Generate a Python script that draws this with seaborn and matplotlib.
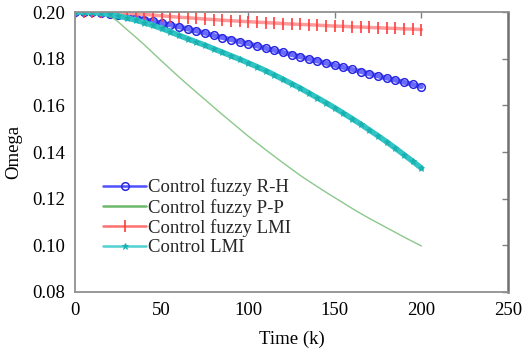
import numpy as np
import pandas as pd
import seaborn as sns
import matplotlib
matplotlib.use("Agg")
import matplotlib.pyplot as plt
from matplotlib.ticker import FormatStrFormatter

# ---- data ----
k = list(range(0, 201, 5))

rh = [0.2000, 0.2000, 0.1999, 0.1997, 0.1993, 0.1988, 0.1982, 0.1975, 0.1968, 0.1961,
      0.1953, 0.1945, 0.1937, 0.1928, 0.1919, 0.1910, 0.1900, 0.1891, 0.1882, 0.1873,
      0.1864, 0.1855, 0.1845, 0.1836, 0.1827, 0.1818, 0.1808, 0.1799, 0.1790, 0.1781,
      0.1772, 0.1763, 0.1754, 0.1745, 0.1735, 0.1726, 0.1717, 0.1708, 0.1699, 0.1690,
      0.1680]

pp = [0.2000, 0.2000, 0.2000, 0.1997, 0.1985, 0.1958, 0.1925, 0.1893, 0.1860, 0.1825,
      0.1790, 0.1756, 0.1722, 0.1689, 0.1657, 0.1625, 0.1593, 0.1561, 0.1530, 0.1499,
      0.1468, 0.1439, 0.1410, 0.1382, 0.1354, 0.1327, 0.1300, 0.1275, 0.1251, 0.1227,
      0.1204, 0.1181, 0.1158, 0.1136, 0.1115, 0.1095, 0.1075, 0.1055, 0.1035, 0.1016,
      0.0997]

flmi = [0.2000, 0.2000, 0.2000, 0.2000, 0.1999, 0.1997, 0.1995, 0.1993, 0.1990, 0.1987,
        0.1984, 0.1981, 0.1978, 0.1976, 0.1973, 0.1970, 0.1968, 0.1965, 0.1963, 0.1961,
        0.1959, 0.1957, 0.1955, 0.1953, 0.1951, 0.1949, 0.1947, 0.1946, 0.1944, 0.1942,
        0.1940, 0.1939, 0.1937, 0.1936, 0.1934, 0.1933, 0.1931, 0.1930, 0.1928, 0.1927,
        0.1925]

lmi = [0.2000, 0.2000, 0.1999, 0.1996, 0.1990, 0.1983, 0.1975, 0.1966, 0.1955, 0.1943,
       0.1930, 0.1916, 0.1900, 0.1886, 0.1872, 0.1858, 0.1843, 0.1828, 0.1813, 0.1798,
       0.1782, 0.1766, 0.1749, 0.1731, 0.1712, 0.1693, 0.1674, 0.1653, 0.1632, 0.1611,
       0.1589, 0.1566, 0.1543, 0.1519, 0.1494, 0.1469, 0.1443, 0.1416, 0.1388, 0.1360,
       0.1331]

labels = ["Control fuzzy R-H", "Control fuzzy P-P", "Control fuzzy LMI", "Control LMI"]
xticks = [0, 50, 100, 150, 200, 250]
yticks = [0.08, 0.10, 0.12, 0.14, 0.16, 0.18, 0.20]

# ---- style ----
sns.set_theme(style="white")
plt.rcParams["font.family"] = ["Liberation Serif", "DejaVu Serif"]

fig = plt.figure(figsize=(5.27, 3.56), dpi=100)
ax = fig.add_axes([0.1423, 0.180, 0.8217, 0.786])

styles = [
    dict(color="#6a6aff", marker="o", markersize=5.5, markerfacecolor="none",
         markeredgecolor="#2828e0", markeredgewidth=1.1, linewidth=3.5),
    dict(color="#8cc88c", marker=None, linewidth=1.0),
    dict(color="#ff9a9a", marker="|", markersize=8, markeredgecolor="#ff3c3c",
         markeredgewidth=1.2, linewidth=2.5),
    dict(color="#30c4c4", marker="*", markersize=5, markerfacecolor="#1ab0b0",
         markeredgecolor="#1ab0b0", markeredgewidth=0.6, linewidth=4.0),
]
series = [rh, pp, flmi, lmi]

for vals, lab, st in zip(series, labels, styles):
    df = pd.DataFrame({"k": k, "omega": vals})
    sns.lineplot(data=df, x="k", y="omega", ax=ax, label=lab, **st)

ax.set_xlim(0, 250)
ax.set_ylim(0.08, 0.20)
ax.set_xticks(xticks)
ax.set_yticks(yticks)
ax.yaxis.set_major_formatter(FormatStrFormatter("%.2f"))
ax.tick_params(direction="in", top=True, right=True, length=4, width=1,
               color="#808080", labelsize=13.5, pad=7, labelcolor="black")
for sp in ax.spines.values():
    sp.set_color("#909090")
    sp.set_linewidth(1.3)
ax.spines["right"].set_color("#707070")
ax.spines["right"].set_linewidth(1.8)

ax.set_xlabel("Time (k)", fontsize=13.5, labelpad=9, color="black")
ax.set_ylabel("Omega", fontsize=13.5, labelpad=7, color="black")

leg = ax.legend(loc="upper left", bbox_to_anchor=(0.065, 0.405), frameon=False,
                fontsize=13.5, handlelength=2.3, handletextpad=0.1,
                labelspacing=0.12, borderpad=0, borderaxespad=0)
leg_colors = ["#5050ff", "#6cb86c", "#ff7070", "#50d0d0"]
for h, c in zip(leg.get_lines(), leg_colors):
    h.set_linewidth(1.8)
    h.set_color(c)

fig.savefig("out.png", dpi=100)
